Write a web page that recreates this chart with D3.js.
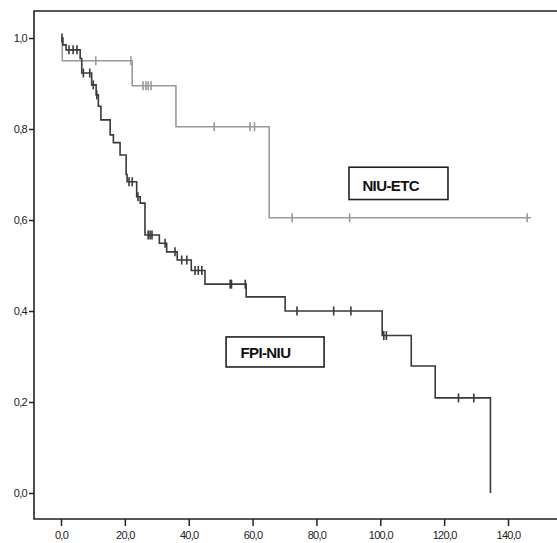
<!DOCTYPE html>
<html>
<head>
<meta charset="utf-8">
<script src="https://cdn.jsdelivr.net/npm/d3@7"></script>
<style>
  body { margin: 0; background: #fff; }
  .tick text { font-family: "Liberation Sans", Arial, sans-serif; font-size: 11px; letter-spacing: -0.7px; fill: #222; }
  .tick line { stroke: #222; stroke-width: 1.5; }
  .grp-label { font-family: "Liberation Sans", Arial, sans-serif; font-weight: bold; font-size: 15px; letter-spacing: -0.6px; fill: #111; }
</style>
</head>
<body>
<svg id="chart"></svg>
<script>
// FPI-NIU group (dark curve): event times and survival after each step
const fpiStepTimes = [0.6, 1.6, 6.0, 6.5, 9.6, 11.0, 11.7, 12.5, 15.4, 16.4, 18.5, 20.4, 20.7, 23.7, 24.8, 26.3, 30.8, 33.1, 36.4, 40.8, 45.1, 58.0, 70.2, 100.6, 109.7, 117.2, 134.5];
const fpiSurvival = [0.985, 0.974, 0.955, 0.923, 0.897, 0.875, 0.850, 0.820, 0.787, 0.770, 0.743, 0.700, 0.684, 0.651, 0.637, 0.567, 0.549, 0.530, 0.512, 0.489, 0.459, 0.431, 0.400, 0.346, 0.279, 0.209, 0.0];
const fpiCensored = [0.3, 2.5, 3.8, 5.0, 7.0, 9.0, 10.1, 11.2, 21.3, 22.3, 24.1, 27.3, 27.9, 28.5, 32.6, 35.7, 37.8, 39.4, 42.0, 43.0, 44.1, 53.0, 53.4, 57.7, 73.9, 85.4, 90.8, 101.1, 101.9, 124.5, 129.3];

// NIU-ETC group (grey curve)
const etcStepTimes = [0.4, 22.3, 36.0, 65.2];
const etcSurvival = [0.95, 0.895, 0.805, 0.605];
const etcCensored = [10.9, 21.9, 25.7, 26.6, 27.3, 28.2, 48.0, 59.2, 60.6, 72.4, 90.4, 146.0];
const etcLastFollowUp = 147.2;

const xTicks = [0, 20, 40, 60, 80, 100, 120, 140];
const yTicks = [0, 0.2, 0.4, 0.6, 0.8, 1.0];

const width = 557, height = 543;

const x = d3.scaleLinear().domain([0, 140]).range([61, 508]);
const y = d3.scaleLinear().domain([0, 1]).range([493, 38]);

const svg = d3.select('#chart')
    .attr('width', width)
    .attr('height', height);

// frame: left, top and bottom lines
const frame = { left: 34, top: 11, bottom: 519, right: 557 };
svg.append('path')
    .attr('d', `M${frame.right},${frame.top}H${frame.left}V${frame.bottom}H${frame.right}`)
    .attr('fill', 'none')
    .attr('stroke', '#222')
    .attr('stroke-width', 1.6);

const fmt = d => d3.format('.1f')(d).replace('.', ',');

// x axis
const xAxis = svg.append('g')
    .attr('transform', `translate(0,${frame.bottom})`)
    .call(d3.axisBottom(x).tickValues(xTicks).tickSize(7).tickPadding(5).tickFormat(fmt));
xAxis.select('.domain').remove();

// y axis
const yAxis = svg.append('g')
    .attr('transform', `translate(${frame.left},0)`)
    .call(d3.axisLeft(y).tickValues(yTicks).tickSize(5).tickPadding(2).tickFormat(fmt));
yAxis.select('.domain').remove();

function stepPoints(times, surv, endTime) {
    const pts = [[0, 1]];
    times.forEach((t, i) => pts.push([t, surv[i]]));
    if (endTime !== undefined) pts.push([endTime, surv[surv.length - 1]]);
    return pts;
}

function survAt(times, surv, t) {
    let v = 1;
    times.forEach((tt, i) => { if (tt <= t) v = surv[i]; });
    return v;
}

const line = d3.line()
    .x(d => x(d[0]))
    .y(d => y(d[1]))
    .curve(d3.curveStepAfter);

const series = [
    { times: etcStepTimes, surv: etcSurvival, cens: etcCensored, end: etcLastFollowUp, color: '#9a9a9a' },
    { times: fpiStepTimes, surv: fpiSurvival, cens: fpiCensored, end: undefined, color: '#3a3a3a' }
];

series.forEach(s => {
    svg.append('path')
        .attr('d', line(stepPoints(s.times, s.surv, s.end)))
        .attr('fill', 'none')
        .attr('stroke', s.color)
        .attr('stroke-width', 1.6);

    svg.append('g')
        .selectAll('line')
        .data(s.cens)
        .join('line')
        .attr('x1', d => x(d))
        .attr('x2', d => x(d))
        .attr('y1', d => y(survAt(s.times, s.surv, d)) - 4.5)
        .attr('y2', d => y(survAt(s.times, s.surv, d)) + 4.5)
        .attr('stroke', s.color)
        .attr('stroke-width', 1.6);
});

// group labels in boxes
const labels = [
    { text: 'NIU-ETC', t0: 90.2, t1: 121.2, v0: 0.716, v1: 0.645, tx: 94.4, ty: 0.664 },
    { text: 'FPI-NIU', t0: 51.7, t1: 82.4, v0: 0.343, v1: 0.277, tx: 56.2, ty: 0.297 }
];

labels.forEach(l => {
    svg.append('rect')
        .attr('x', x(l.t0))
        .attr('y', y(l.v0))
        .attr('width', x(l.t1) - x(l.t0))
        .attr('height', y(l.v1) - y(l.v0))
        .attr('fill', '#fff')
        .attr('stroke', '#222')
        .attr('stroke-width', 1.6);
    svg.append('text')
        .attr('class', 'grp-label')
        .attr('x', x(l.tx))
        .attr('y', y(l.ty))
        .text(l.text);
});
</script>
</body>
</html>
